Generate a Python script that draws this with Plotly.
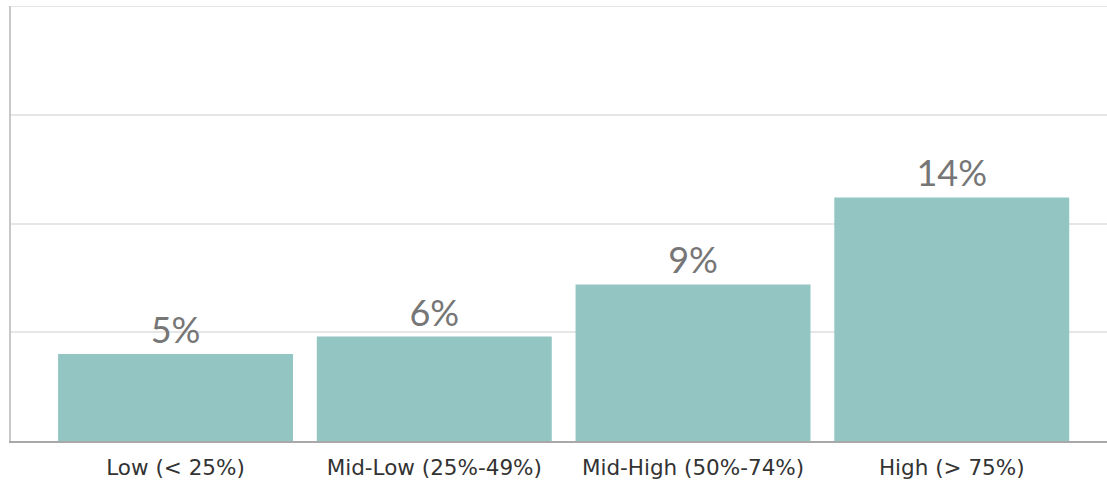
import plotly.graph_objects as go

categories = ["Low (< 25%)", "Mid-Low (25%-49%)", "Mid-High (50%-74%)", "High (> 75%)"]
values = [5, 6, 9, 14]
labels = ["5%", "6%", "9%", "14%"]

fig = go.Figure(go.Bar(
    x=list(range(len(categories))),
    y=values,
    text=labels,
    textposition="outside",
    textfont=dict(family="Lato", size=36, color="#767676"),
    marker=dict(color="#93c5c3", line=dict(width=0)),
    width=0.908,
    cliponaxis=False,
))

fig.update_layout(
    width=1107, height=483,
    margin=dict(l=11, r=0, t=6, b=42),
    plot_bgcolor="white", paper_bgcolor="white",
    showlegend=False,
    xaxis=dict(
        tickmode="array", tickvals=list(range(len(categories))), ticktext=categories,
        range=[-0.636, 3.6], showgrid=False, zeroline=False,
        showline=True, linecolor="#a8a8a8", linewidth=1.5,
        ticks="outside", ticklen=6, tickcolor="rgba(0,0,0,0)",
        tickfont=dict(family="DejaVu Sans", size=21.5, color="#333333"),
    ),
    yaxis=dict(
        range=[0, 25], dtick=6.25, showticklabels=False,
        showgrid=True, gridcolor="#e6e6e6", gridwidth=1.5,
        zeroline=False, showline=True, linecolor="#c8c8c8", linewidth=2,
        mirror=False,
    ),
)
fig.add_shape(type="line", xref="paper", yref="y", x0=0, x1=1, y0=25, y1=25,
              line=dict(color="#e6e6e6", width=2))

fig.write_html("out.html")
